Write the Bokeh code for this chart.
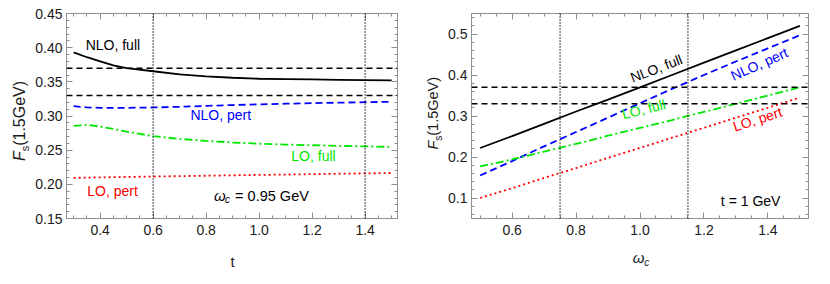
from bokeh.plotting import figure
from bokeh.layouts import row, column
from bokeh.models import (Span, Label, LinearAxis, FixedTicker, PrintfTickFormatter, Range1d,
                          Div, CustomLabelingPolicy)
from bokeh.embed import file_html
from bokeh.resources import INLINE
import math

# ---------------- data: left panel (vs t, omega_c = 0.95 GeV) ----------------
t_vals = [0.3, 0.35, 0.4, 0.45, 0.5, 0.6, 0.7, 0.8, 0.9, 1.0, 1.1, 1.2, 1.3, 1.4, 1.5]
nlo_full_t = [0.393, 0.386, 0.380, 0.374, 0.370, 0.3655, 0.361, 0.358, 0.356, 0.3545, 0.354, 0.3535, 0.353, 0.3525, 0.352]
nlo_pert_t = [0.3145, 0.3125, 0.312, 0.3118, 0.312, 0.3125, 0.3135, 0.3148, 0.316, 0.317, 0.318, 0.3188, 0.3195, 0.3202, 0.3208]
lo_full_t = [0.2855, 0.287, 0.2845, 0.281, 0.277, 0.2705, 0.2665, 0.2635, 0.2612, 0.2595, 0.2582, 0.2572, 0.2563, 0.2555, 0.2548]
lo_pert_t = [0.2095, 0.2098, 0.2102, 0.2105, 0.2108, 0.2114, 0.212, 0.2126, 0.2132, 0.2138, 0.2143, 0.2149, 0.2155, 0.216, 0.2166]
vlines_t = [0.6, 1.4]

# ---------------- data: right panel (vs omega_c, t = 1 GeV) ----------------
w_vals = [0.5, 0.6, 0.7, 0.8, 0.9, 1.0, 1.1, 1.2, 1.3, 1.4, 1.5]
nlo_full_w = [0.222, 0.251, 0.281, 0.311, 0.340, 0.370, 0.400, 0.430, 0.460, 0.490, 0.520]
nlo_pert_w = [0.155, 0.190, 0.226, 0.261, 0.296, 0.331, 0.366, 0.400, 0.433, 0.465, 0.497]
lo_full_w = [0.177, 0.194, 0.213, 0.232, 0.252, 0.271, 0.290, 0.310, 0.330, 0.350, 0.370]
lo_pert_w = [0.100, 0.124, 0.149, 0.173, 0.198, 0.222, 0.247, 0.271, 0.296, 0.320, 0.345]
vlines_w = [0.75, 1.15]

band = [0.33, 0.37]

x_ticks_t = [0.4, 0.6, 0.8, 1.0, 1.2, 1.4]
y_ticks_t = [0.15, 0.20, 0.25, 0.30, 0.35, 0.40, 0.45]
x_ticks_w = [0.6, 0.8, 1.0, 1.2, 1.4]
y_ticks_w = [0.1, 0.2, 0.3, 0.4, 0.5]

FRAME = "#8f8f8f"
FONT = "Liberation Sans"
TXT = "#1a1a1a"
GREEN = "#00e600"


def style_axis(ax, ticker, fmt=None):
    ax.ticker = ticker
    ax.axis_line_color = FRAME
    ax.major_tick_line_color = FRAME
    ax.minor_tick_line_color = FRAME
    ax.major_tick_in = 6
    ax.major_tick_out = 0
    ax.minor_tick_in = 3
    ax.minor_tick_out = 0
    if fmt is None:
        ax.major_label_text_font_size = "0px"
        ax.major_label_standoff = 0
        ax.major_label_policy = CustomLabelingPolicy(code="return []")
    else:
        ax.formatter = PrintfTickFormatter(format=fmt)
        ax.major_label_text_font = FONT
        ax.major_label_text_font_size = "14px"
        ax.major_label_text_color = TXT


def make_fig(xr, yr, mbl, mbr, xt, yt, xfmt, yfmt):
    p = figure(width=377, height=245, x_range=Range1d(start=xr[0], end=xr[1]),
               y_range=Range1d(start=yr[0], end=yr[1]), output_backend="svg",
               toolbar_location=None, min_border_left=mbl, min_border_right=mbr,
               min_border_top=13, min_border_bottom=27)
    p.xgrid.visible = False
    p.ygrid.visible = False
    p.outline_line_color = FRAME
    p.add_layout(LinearAxis(), "right")
    p.add_layout(LinearAxis(), "above")
    style_axis(p.below[0], xt, xfmt)
    style_axis(p.left[0], yt, yfmt)
    style_axis(p.above[0], xt)
    style_axis(p.right[0], yt)
    p.below[0].major_label_standoff = 6
    p.left[0].major_label_standoff = 4
    return p


def lab(p, x, y, text, color="black", size="14px", style="normal", angle=0.0,
        align="left", baseline="middle", xo=0, yo=0):
    p.add_layout(Label(x=x, y=y, text=text, text_color=color, text_font=FONT,
                       text_font_size=size, text_font_style=style, angle=angle,
                       text_align=align, text_baseline=baseline, x_offset=xo, y_offset=yo))


def box_div(inner, w, h, dx, dy, rot, fs):
    tr = f"translate({dx}px,{dy}px)" + (" rotate(-90deg)" if rot else "")
    html = (f'<div style="width:{w}px;height:{h}px;display:flex;align-items:center;'
            f'justify-content:center;overflow:visible;">'
            f'<span style="display:inline-block;white-space:nowrap;font-family:\'{FONT}\';'
            f'font-size:{fs}px;color:{TXT};line-height:1;transform:{tr};">{inner}</span></div>')
    return Div(text=html, width=w, height=h, margin=0)


Y_INNER = ('<i>F</i><span style="font-size:{s}px;position:relative;top:4px;">s</span>(1.5GeV)')
OMEGA_C = ('<i>&omega;</i><span style="font-size:10px;position:relative;top:3px;"><i>c</i></span>')

# ---------------- left panel ----------------
xt1 = FixedTicker(ticks=x_ticks_t, minor_ticks=[round(0.05 * i, 2) for i in range(5, 31)])
yt1 = FixedTicker(ticks=y_ticks_t, minor_ticks=[round(0.01 * i, 2) for i in range(15, 46)])
p1 = make_fig((0.273, 1.522), (0.15, 0.45), 36, 10, xt1, yt1, "%.1f", "%.2f")

for v in band:
    p1.add_layout(Span(location=v, dimension="width", line_color="black", line_width=1.5, line_dash="6 4"))
for v in vlines_t:
    p1.add_layout(Span(location=v, dimension="height", line_color="black", line_width=1.5, line_dash="1 2"))

p1.line(t_vals, nlo_full_t, line_color="black", line_width=1.8)
p1.line(t_vals, nlo_pert_t, line_color="blue", line_width=1.8, line_dash="7 4")
p1.line(t_vals, lo_full_t, line_color=GREEN, line_width=1.8, line_dash="8 3 2 3")
p1.line(t_vals, lo_pert_t, line_color="red", line_width=1.8, line_dash="2 3")

lab(p1, 0.448, 0.404, "NLO, full", align="center")
lab(p1, 0.855, 0.301, "NLO, pert", color="blue", align="center")
lab(p1, 1.205, 0.2412, "LO, full", color=GREEN, align="center")
lab(p1, 0.447, 0.1907, "LO, pert", color="red", align="center")
lab(p1, 0.83, 0.1833, "ω", style="italic", size="15px")
lab(p1, 0.83, 0.1833, "c", style="italic", size="10px", xo=11, yo=-4)
lab(p1, 0.83, 0.1833, "= 0.95 GeV", size="14.5px", xo=21)

ydiv1 = box_div(Y_INNER.format(s=11), 30, 268, 4.5, -13, True, 16)
xdiv1 = box_div("t", 377, 23, 14, 5, False, 15)

# ---------------- right panel ----------------
xt2 = FixedTicker(ticks=x_ticks_w, minor_ticks=[round(0.05 * i, 2) for i in range(10, 31)])
yt2 = FixedTicker(ticks=y_ticks_w, minor_ticks=[round(0.02 * i, 2) for i in range(3, 28)])
p2 = make_fig((0.473, 1.527), (0.05, 0.55), 28, 12, xt2, yt2, "%.1f", "%.1f")

for v in band:
    p2.add_layout(Span(location=v, dimension="width", line_color="black", line_width=1.5, line_dash="6 4"))
for v in vlines_w:
    p2.add_layout(Span(location=v, dimension="height", line_color="black", line_width=1.5, line_dash="1 2"))

p2.line(w_vals, nlo_full_w, line_color="black", line_width=1.8)
p2.line(w_vals, nlo_pert_w, line_color="blue", line_width=1.8, line_dash="7 4")
p2.line(w_vals, lo_full_w, line_color=GREEN, line_width=1.8, line_dash="8 3 2 3")
p2.line(w_vals, lo_pert_w, line_color="red", line_width=1.8, line_dash="2 3")

lab(p2, 1.051, 0.416, "NLO, full", align="center", angle=math.radians(21))
lab(p2, 1.373, 0.4267, "NLO, pert", color="blue", align="center", angle=math.radians(24))
lab(p2, 1.012, 0.3167, "LO, full", color=GREEN, align="center", angle=math.radians(14))
lab(p2, 1.3675, 0.2923, "LO, pert", color="red", align="center", angle=math.radians(18))
lab(p2, 1.346, 0.093, "t = 1 GeV", align="center")

ydiv2 = box_div(Y_INNER.format(s=10), 36, 268, 7.5, -21, True, 14.5)
xdiv2 = box_div(OMEGA_C, 377, 23, 9.5, 1, False, 15)

layout = row(ydiv1, column(p1, xdiv1), ydiv2, column(p2, xdiv2))
open("out.html", "w").write(file_html(layout, INLINE))
